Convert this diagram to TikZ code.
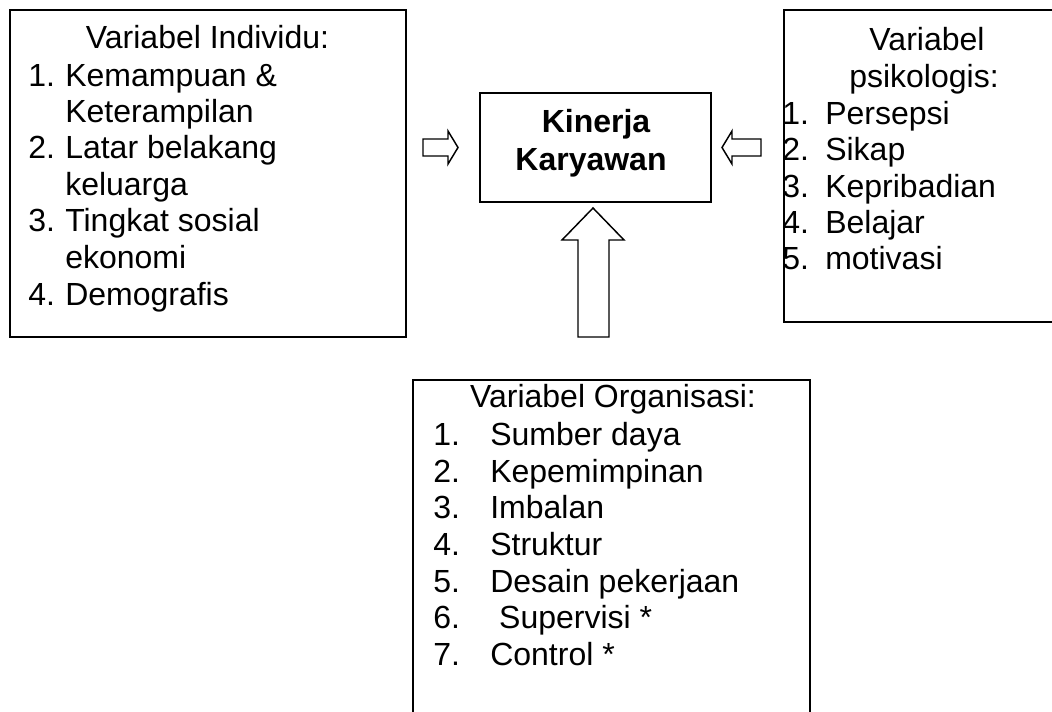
\documentclass[tikz,border=0pt]{standalone}
\usepackage{fontspec}
\setmainfont{Liberation Sans}

\begin{document}
\begin{tikzpicture}[x=0.75pt,y=-0.75pt,
  box/.style={draw,line width=1.5pt,inner sep=0pt,anchor=north west},
  txt/.style={inner sep=0pt,anchor=base west,font=\fontsize{24}{28}\selectfont},
  title/.style={txt,anchor=base},
  barrow/.style={draw,line width=1.1pt,line join=miter,fill=white}]
  \clip (0,0) rectangle (1052,711);
  \node[box,minimum width=297pt,minimum height=245.25pt] (individu) at (9,9) {};
  \node[box,minimum width=173.25pt,minimum height=81.75pt] (kinerja) at (479,92) {};
  \node[box,minimum width=213pt,minimum height=234pt] (psikologis) at (783,8.5) {};
  \node[box,minimum width=297.75pt,minimum height=285.75pt] (organisasi) at (412,379) {};
  % left box
  \node[title] (indT) at (207.5,48) {Variabel Individu:};
  \node[txt] (ind1n) at (28,86) {1.};
  \node[txt] (ind1) at (65,86) {Kemampuan \&};
  \node[txt] (ind1b) at (65,122.5) {Keterampilan};
  \node[txt] (ind2n) at (28,158.5) {2.};
  \node[txt] (ind2) at (65,158.5) {Latar belakang};
  \node[txt] (ind2b) at (65,195) {keluarga};
  \node[txt] (ind3n) at (28,231.5) {3.};
  \node[txt] (ind3) at (65,231.5) {Tingkat sosial};
  \node[txt] (ind3b) at (65,268) {ekonomi};
  \node[txt] (ind4n) at (28,305) {4.};
  \node[txt] (ind4) at (65,305) {Demografis};
  % center box
  \node[title,font=\fontsize{24}{28}\selectfont\bfseries] (kinT1) at (596,132) {Kinerja};
  \node[title,font=\fontsize{24}{28}\selectfont\bfseries] (kinT2) at (591,170) {Karyawan};
  % right box
  \node[title] (psiT1) at (927,50) {Variabel};
  \node[title] (psiT2) at (924,87) {psikologis:};
  \node[txt] (psi1n) at (782,124) {1.};
  \node[txt] (psi1) at (825,124) {Persepsi};
  \node[txt] (psi2n) at (782,160) {2.};
  \node[txt] (psi2) at (825,160) {Sikap};
  \node[txt] (psi3n) at (782,197) {3.};
  \node[txt] (psi3) at (825,197) {Kepribadian};
  \node[txt] (psi4n) at (782,233) {4.};
  \node[txt] (psi4) at (825,233) {Belajar};
  \node[txt] (psi5n) at (782,269.5) {5.};
  \node[txt] (psi5) at (825,269.5) {motivasi};
  % bottom box
  \node[title] (orgT) at (613,407) {Variabel Organisasi:};
  \node[txt] (org1n) at (433,445) {1.};
  \node[txt] (org1) at (490,445) {Sumber daya};
  \node[txt] (org2n) at (433,482) {2.};
  \node[txt] (org2) at (490,482) {Kepemimpinan};
  \node[txt] (org3n) at (433,518) {3.};
  \node[txt] (org3) at (490,518) {Imbalan};
  \node[txt] (org4n) at (433,555) {4.};
  \node[txt] (org4) at (490,555) {Struktur};
  \node[txt] (org5n) at (433,592) {5.};
  \node[txt] (org5) at (490,592) {Desain pekerjaan};
  \node[txt] (org6n) at (433,628) {6.};
  \node[txt] (org6) at (490,628) {\ Supervisi *};
  \node[txt] (org7n) at (433,665) {7.};
  \node[txt] (org7) at (490,665) {Control *};
  % block arrows
  \draw[barrow] (423,139) -- (448,139) -- (448,131) -- (458,147.5) -- (448,164) -- (448,156) -- (423,156) -- cycle;
  \draw[barrow] (722,147.5) -- (732,131) -- (732,139) -- (761,139) -- (761,156) -- (732,156) -- (732,164) -- cycle;
  \draw[barrow] (593,208) -- (624,240) -- (609,240) -- (609,337) -- (578,337) -- (578,240) -- (562,240) -- cycle;
\end{tikzpicture}
\end{document}
